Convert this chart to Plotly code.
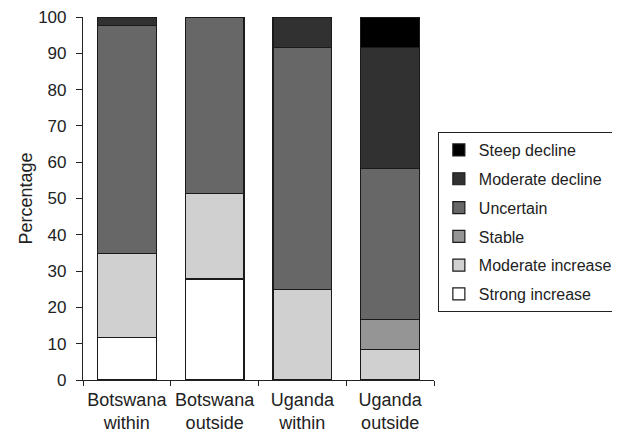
import plotly.graph_objects as go

categories = ["Botswana<br>within", "Botswana<br>outside", "Uganda<br>within", "Uganda<br>outside"]
series_names = ["Strong increase", "Moderate increase", "Stable", "Uncertain", "Moderate decline", "Steep decline"]
strong_increase = [11.6, 27.8, 0.0, 0.0]
moderate_increase = [23.3, 23.6, 25.0, 8.3]
stable = [0.0, 0.0, 0.0, 8.4]
uncertain = [62.8, 48.6, 66.7, 41.6]
moderate_decline = [2.3, 0.0, 8.3, 33.4]
steep_decline = [0.0, 0.0, 0.0, 8.3]
tick_vals_y = [0, 10, 20, 30, 40, 50, 60, 70, 80, 90, 100]

values = [strong_increase, moderate_increase, stable, uncertain, moderate_decline, steep_decline]
colors = ["#ffffff", "#d0d0d0", "#959595", "#676767", "#313131", "#000000"]

fig = go.Figure()
for i, (name, vals, col) in enumerate(zip(series_names, values, colors)):
    fig.add_trace(go.Bar(
        x=categories, y=vals, name=name,
        marker=dict(color=col, line=dict(color="#1a1a1a", width=1.2)),
        legendgroup=f"g{i}", legendrank=10 - i,
    ))

# page body has an 8px margin, so the figure is 612x424 and offsets are compensated
fig.update_layout(
    barmode="stack",
    bargap=0.33,
    width=612, height=424,
    margin=dict(l=75, r=186, t=9, b=52, autoexpand=False),
    paper_bgcolor="white", plot_bgcolor="white",
    font=dict(family="Liberation Sans, Arial, sans-serif", size=17, color="#222222"),
    showlegend=True,
    legend=dict(
        x=1.011, y=0.683, xanchor="left", yanchor="top",
        bordercolor="#222222", borderwidth=1,
        traceorder="grouped", tracegroupgap=5,
        font=dict(size=16), itemwidth=30,
    ),
    xaxis=dict(
        showline=True, linecolor="#222222", linewidth=1.2,
        ticks="outside", ticklen=5, tickcolor="#222222", tickson="boundaries",
        showgrid=False, automargin=False, tickfont=dict(size=18), tickangle=0,
        ticklabelstandoff=3,
    ),
    yaxis=dict(
        range=[0, 100], tickvals=tick_vals_y,
        showline=True, linecolor="#222222", linewidth=1.2,
        ticks="outside", ticklen=6, tickcolor="#222222",
        showgrid=False, zeroline=False, automargin=False,
        ticklabelstandoff=6, tickfont=dict(size=17), ticklabeloverflow="allow",
        title=dict(text="Percentage", standoff=0, font=dict(size=18)),
    ),
)

fig.write_html("out.html")
